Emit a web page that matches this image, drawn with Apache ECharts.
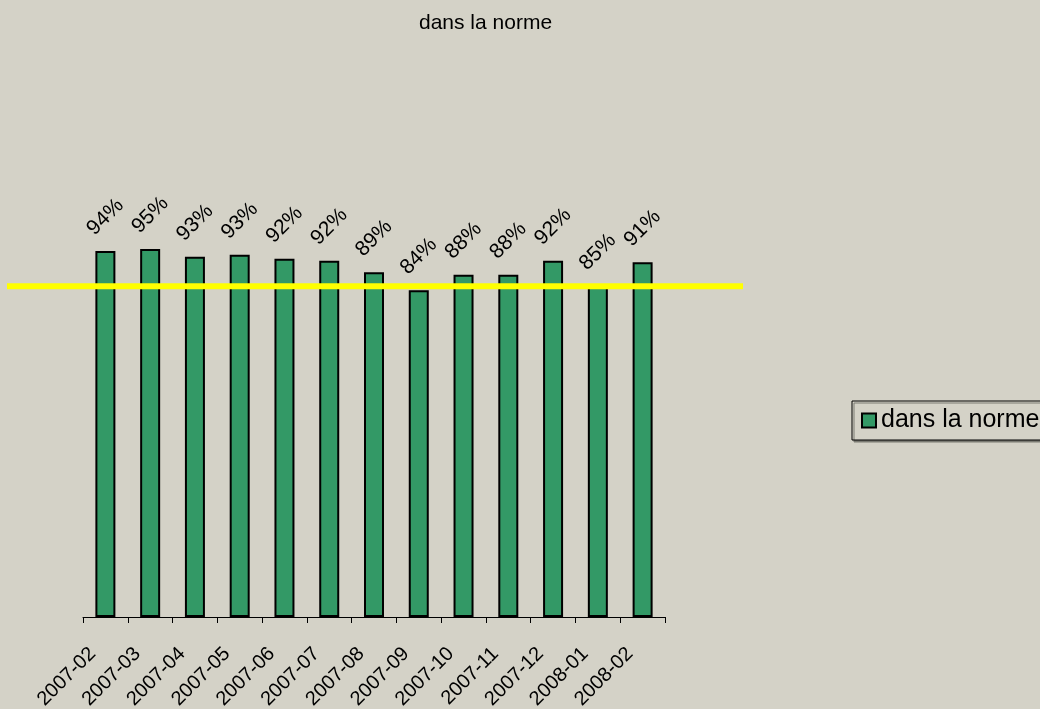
<!DOCTYPE html>
<html>
<head>
<meta charset="utf-8">
<script src="https://cdn.jsdelivr.net/npm/echarts@6/dist/echarts.min.js"></script>
<style>
  html, body { margin: 0; padding: 0; background: #d4d2c7; }
  #chart { width: 1040px; height: 709px; }
</style>
</head>
<body>
<div id="chart"></div>
<script>
var months = ['2007-02', '2007-03', '2007-04', '2007-05', '2007-06', '2007-07', '2007-08',
              '2007-09', '2007-10', '2007-11', '2007-12', '2008-01', '2008-02'];
var dansLaNorme = [94.1, 94.6, 92.6, 93.1, 92.1, 91.6, 88.6, 84.0, 88.0, 88.0, 91.6, 85.1, 91.2];
var seuil = 85; // ligne jaune
var seuilSpan = [0, 1];

var chart = echarts.init(document.getElementById('chart'), null, { renderer: 'canvas' });

var font = 'Liberation Sans, Arial, sans-serif';

chart.setOption({
    backgroundColor: '#d4d2c7',
    animation: false,
    textStyle: { fontFamily: font, color: '#000' },
    title: {
        text: 'dans la norme',
        left: 414,
        top: 8,
        textStyle: { fontFamily: font, fontSize: 21, fontWeight: 'normal', color: '#000' }
    },
    legend: {
        left: 852,
        top: 401,
        padding: [7, 10, 7, 9],
        backgroundColor: '#d4d2c7',
        borderColor: '#000',
        borderWidth: 1,
        shadowColor: '#7a7a72',
        shadowOffsetX: 2,
        shadowOffsetY: 2,
        shadowBlur: 0,
        icon: 'rect',
        itemWidth: 14,
        itemHeight: 14,
        itemGap: 8,
        data: ['dans la norme'],
        textStyle: { fontFamily: font, fontSize: 25, color: '#000', padding: [2, 0, 0, 0] }
    },
    grid: [
        { left: 83, right: 375, top: 228, bottom: 92, containLabel: false, outerBoundsMode: 'none' },
        { left: 7, right: 297, top: 228, bottom: 92, containLabel: false, outerBoundsMode: 'none' }
    ],
    xAxis: [{
        type: 'category',
        gridIndex: 0,
        data: months,
        axisLine: { show: true, lineStyle: { color: '#000', width: 1 } },
        axisTick: { show: true, length: 6, lineStyle: { color: '#000', width: 1 } },
        axisLabel: {
            rotate: 45,
            margin: 21,
            padding: [0, 18, 0, 0],
            fontSize: 20,
            fontFamily: font,
            color: '#000',
            interval: 0
        }
    }, {
        type: 'value',
        gridIndex: 1,
        min: 0,
        max: 1,
        show: false
    }],
    yAxis: [{
        type: 'value',
        gridIndex: 0,
        min: 0,
        max: 100,
        show: false,
        splitLine: { show: false }
    }, {
        type: 'value',
        gridIndex: 1,
        min: 0,
        max: 100,
        show: false,
        splitLine: { show: false }
    }],
    series: [{
        name: 'dans la norme',
        type: 'bar',
        xAxisIndex: 0,
        yAxisIndex: 0,
        barWidth: 20,
        data: dansLaNorme,
        itemStyle: { color: '#339966', borderColor: '#000', borderWidth: 2 },
        label: {
            show: true,
            position: 'top',
            distance: 34,
            rotate: 45,
            align: 'center',
            verticalAlign: 'middle',
            fontSize: 21,
            fontFamily: font,
            color: '#000',
            formatter: function (p) { return Math.round(p.value) + '%'; }
        },
        z: 2
    }, {
        name: 'seuil',
        type: 'line',
        xAxisIndex: 1,
        yAxisIndex: 1,
        data: seuilSpan.map(function (x) { return [x, seuil]; }),
        symbol: 'none',
        lineStyle: { color: '#ffff00', width: 6 },
        silent: true,
        z: 5
    }]
});
</script>
</body>
</html>
